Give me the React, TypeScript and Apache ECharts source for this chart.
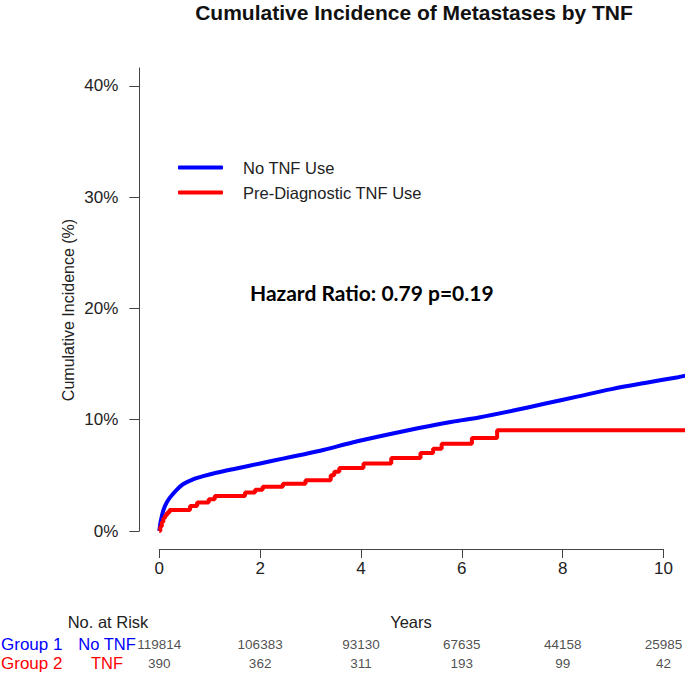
import React, { useEffect, useRef } from "react";
import * as echarts from "echarts";

// ---- data ----
const yTickValues = [0, 10, 20, 30, 40];
const seriesNames = ["No TNF Use", "Pre-Diagnostic TNF Use"];

// No TNF use (blue), time in years, cumulative incidence in %
const noTnfTime = [0, 0.03, 0.08, 0.14, 0.21, 0.34, 0.47, 0.67, 0.87, 1.13, 1.53, 2.0, 2.45, 2.85, 3.25, 3.83, 4.49, 5.15, 5.81, 6.34, 7.0, 7.66, 8.31, 8.97, 9.63, 10.29, 10.43];
const noTnfPct = [0, 0.9, 1.85, 2.5, 3.0, 3.68, 4.2, 4.64, 4.93, 5.23, 5.62, 6.07, 6.5, 6.88, 7.28, 7.95, 8.62, 9.25, 9.82, 10.2, 10.8, 11.45, 12.1, 12.75, 13.3, 13.82, 13.95];

// Pre-diagnostic TNF use (red), step function
const tnfTime = [0, 0.02, 0.05, 0.08, 0.11, 0.15, 0.2, 0.61, 0.75, 0.98, 1.1, 1.7, 1.9, 2.05, 2.45, 2.9, 3.4, 3.47, 3.57, 4.05, 4.6, 5.18, 5.43, 5.6, 6.2, 6.7, 10.43];
const tnfPct = [0, 0.4, 0.8, 1.15, 1.4, 1.65, 1.88, 2.25, 2.55, 2.85, 3.15, 3.45, 3.7, 3.97, 4.25, 4.57, 5.0, 5.32, 5.65, 6.07, 6.55, 7.0, 7.38, 7.85, 8.35, 9.05, 9.05];

// Number at risk table
const riskTimes = [0, 2, 4, 6, 8, 10];
const riskNoTnf = [119814, 106383, 93130, 67635, 44158, 25985];
const riskTnf = [390, 362, 311, 193, 99, 42];

const titleText = "Cumulative Incidence of Metastases by TNF";
const yAxisTitle = "Cumulative Incidence (%)";
const hazardText = "Hazard Ratio: 0.79 p=0.19";

const SANS = "'Liberation Sans', Arial, sans-serif";

// layout
const PLOT_LEFT = 159.3;
const X10_RIGHT = 21.5; // distance from x=10 to the right edge
const PX_PER_YEAR = (685 - X10_RIGHT - PLOT_LEFT) / 10;
const PLOT_XMAX = (685 - PLOT_LEFT) / PX_PER_YEAR; // data extent reaching right edge

export default function App() {
  const ref = useRef<HTMLDivElement>(null);

  useEffect(() => {
    if (!ref.current) return;
    const chart = echarts.init(ref.current, undefined, { renderer: "svg" });

    const blueData = noTnfTime.map((t, i) => [t, noTnfPct[i]]);
    const redData = tnfTime.map((t, i) => [t, tnfPct[i]]);
    const riskData = [
      ...riskTimes.map((t, i) => [t, 1, riskNoTnf[i]]),
      ...riskTimes.map((t, i) => [t, 0, riskTnf[i]]),
    ];

    const axisColor = "#444";
    const textColor = "#222";

    chart.setOption({
      animation: false,
      backgroundColor: "#fff",
      grid: [
        // plotting grid (extends to the right edge)
        { left: PLOT_LEFT, right: 0, top: 68, bottom: 143, outerBoundsMode: "none" },
        // visible x axis grid (0..10)
        { left: PLOT_LEFT, right: X10_RIGHT, top: 68, bottom: 125, outerBoundsMode: "none" },
        // risk table grid
        { left: PLOT_LEFT, right: X10_RIGHT, top: 644, bottom: 11, outerBoundsMode: "none" },
      ],
      xAxis: [
        { type: "value", gridIndex: 0, min: 0, max: PLOT_XMAX, show: false },
        {
          type: "value",
          gridIndex: 1,
          min: 0,
          max: 10,
          interval: 2,
          position: "bottom",
          axisLine: { show: true, onZero: false, lineStyle: { color: axisColor, width: 1 } },
          axisTick: { show: true, length: 9, lineStyle: { color: axisColor } },
          axisLabel: { show: true, margin: 11, color: textColor, fontSize: 17, fontFamily: SANS },
          splitLine: { show: false },
        },
        { type: "value", gridIndex: 2, min: 0, max: 10, show: false },
      ],
      yAxis: [
        {
          type: "value",
          gridIndex: 0,
          min: 0,
          max: 41.6,
          offset: 20,
          position: "left",
          axisLine: { show: true, onZero: false, lineStyle: { color: axisColor, width: 1 } },
          axisTick: { show: true, length: 10, lineStyle: { color: axisColor }, customValues: yTickValues },
          axisLabel: {
            show: true,
            margin: 21,
            color: textColor,
            fontSize: 17,
            fontFamily: SANS,
            customValues: yTickValues,
            formatter: (v: number) => `${v}%`,
          },
          splitLine: { show: false },
        },
        { type: "value", gridIndex: 1, min: 0, max: 1, show: false },
        { type: "value", gridIndex: 2, min: 0, max: 1, show: false },
      ],
      legend: {
        orient: "vertical",
        left: 178,
        top: 159,
        padding: 0,
        itemWidth: 45,
        itemHeight: 4,
        itemGap: 8,
        icon: "roundRect",
        data: seriesNames,
        textStyle: { color: textColor, fontSize: 16.5, fontFamily: SANS, padding: [0, 0, 0, 15] },
        selectedMode: false,
      },
      series: [
        {
          name: seriesNames[0],
          type: "line",
          xAxisIndex: 0,
          yAxisIndex: 0,
          data: blueData,
          smooth: 0.3,
          showSymbol: false,
          symbol: "none",
          clip: false,
          lineStyle: { color: "#0000ff", width: 4 },
          itemStyle: { color: "#0000ff" },
        },
        {
          name: seriesNames[1],
          type: "line",
          xAxisIndex: 0,
          yAxisIndex: 0,
          data: redData,
          step: "end",
          showSymbol: false,
          symbol: "none",
          clip: false,
          lineStyle: { color: "#ff0000", width: 4 },
          itemStyle: { color: "#ff0000" },
        },
        {
          name: "risk",
          type: "scatter",
          xAxisIndex: 2,
          yAxisIndex: 2,
          data: riskData,
          symbolSize: 1,
          itemStyle: { color: "rgba(0,0,0,0)" },
          silent: true,
          label: {
            show: true,
            position: "inside",
            color: textColor,
            fontSize: 13.5,
            fontFamily: SANS,
            formatter: (p: any) => String(p.value[2]),
          },
        },
      ],
      graphic: [
        {
          type: "text",
          x: 414,
          y: 12,
          style: { text: titleText, align: "center", verticalAlign: "middle", fontSize: 21, fontWeight: "bold", fontFamily: SANS, fill: "#111" },
        },
        {
          type: "text",
          x: 68,
          y: 310,
          rotation: Math.PI / 2,
          style: { text: yAxisTitle, align: "center", verticalAlign: "middle", fontSize: 16, fontFamily: SANS, fill: textColor },
        },
        {
          type: "text",
          x: 250,
          y: 292,
          style: { text: hazardText, align: "left", verticalAlign: "middle", fontSize: 21, fontWeight: "bold", fontFamily: "Lato, 'Open Sans', sans-serif", fill: "#000" },
        },
        {
          type: "text",
          x: 108,
          y: 622,
          style: { text: "No. at Risk", align: "center", verticalAlign: "middle", fontSize: 16.5, fontFamily: SANS, fill: textColor },
        },
        {
          type: "text",
          x: 411,
          y: 622,
          style: { text: "Years", align: "center", verticalAlign: "middle", fontSize: 16.5, fontFamily: SANS, fill: textColor },
        },
        {
          type: "text",
          x: 1,
          y: 644,
          style: { text: "Group 1", align: "left", verticalAlign: "middle", fontSize: 17, fontFamily: SANS, fill: "#0000ff" },
        },
        {
          type: "text",
          x: 107,
          y: 644,
          style: { text: "No TNF", align: "center", verticalAlign: "middle", fontSize: 16.5, fontFamily: SANS, fill: "#0000ff" },
        },
        {
          type: "text",
          x: 1,
          y: 663,
          style: { text: "Group 2", align: "left", verticalAlign: "middle", fontSize: 17, fontFamily: SANS, fill: "#ff0000" },
        },
        {
          type: "text",
          x: 107,
          y: 663,
          style: { text: "TNF", align: "center", verticalAlign: "middle", fontSize: 16.5, fontFamily: SANS, fill: "#ff0000" },
        },
      ],
    });

    return () => chart.dispose();
  }, []);

  return (
    <div
      ref={ref}
      style={{ position: "fixed", left: 0, top: 0, width: 685, height: 674, background: "#fff" }}
    />
  );
}
